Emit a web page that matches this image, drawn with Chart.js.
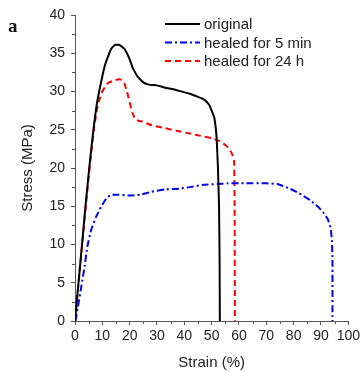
<!DOCTYPE html>
<html><head><meta charset="utf-8">
<script src="https://cdn.jsdelivr.net/npm/chart.js@4/dist/chart.umd.min.js"></script>
<style>html,body{margin:0;padding:0;background:#fff;}canvas{display:block;}</style>
</head><body>
<canvas id="c" width="363" height="372"></canvas>
<script>
const seriesLabels = ['original', 'healed for 5 min', 'healed for 24 h'];
const originalStrain = [0,2,4,5.5,7,8,9,10,11,12,13,14,15,16,17,18,19,20,21,22,23,25,27,30,33,36,39,42,45,47,49,50,51,51.8,52.3,52.7,52.9,53];
const originalStress = [0,7.8,15.6,21,25.8,28.4,30.3,32,33.5,34.5,35.4,35.9,36.1,36.1,35.9,35.6,35,34.2,33.2,32.5,31.9,31.2,30.9,30.8,30.5,30.3,30,29.7,29.3,29,28.3,27.5,26.5,24,20,15,8,0];
const healed5Strain = [0.2,1.1,2.3,3.5,4.5,5.9,7.7,9.5,11.4,13.2,16,20,24,28,33,38,42,47,52,56,62,70,74,78,82,86,89,91,92.5,93.5,94,94.2,94.2];
const healed5Stress = [0,1.9,4.5,7.1,9.7,11.9,13.6,14.9,16,16.5,16.5,16.4,16.5,16.9,17.2,17.3,17.5,17.8,17.9,18,18,18,17.9,17.4,16.7,15.8,14.9,14.1,13.3,12.2,10.5,8,0];
const healed24Strain = [0,2,4,5.5,7,8,9,10,11,12,14,16,17,18,19,19.8,21,22.2,24.7,28,33,38,42,46,50,53,55,56.5,57.5,58.2,58.4,58.5];
const healed24Stress = [0,7.6,15.2,20.6,25.3,27.6,29,30,30.6,31.1,31.4,31.6,31.5,31.1,30,28.9,27.2,26.3,26.05,25.6,25.2,24.8,24.5,24.2,23.9,23.5,23,22.5,21.8,21,15,0];
const xTicks = [0,10,20,30,40,50,60,70,80,90,100];
const yTicks = [0,5,10,15,20,25,30,35,40];

const pts = (xs, ys) => xs.map((x, i) => ({x, y: ys[i]}));

const minorTicks = {
  id: 'minorTicks',
  afterDraw(chart) {
    const {ctx, scales: {x, y}} = chart;
    ctx.save();
    ctx.strokeStyle = '#555';
    ctx.lineWidth = 1;
    ctx.beginPath();
    for (let i = 0; i < yTicks.length - 1; i++) {
      const v = (yTicks[i] + yTicks[i + 1]) / 2;
      const py = Math.round(y.getPixelForValue(v)) + 0.5;
      ctx.moveTo(x.left - 3, py); ctx.lineTo(x.left, py);
    }
    for (let i = 0; i < xTicks.length - 1; i++) {
      const v = (xTicks[i] + xTicks[i + 1]) / 2;
      const px = Math.round(x.getPixelForValue(v)) + 0.5;
      ctx.moveTo(px, y.bottom); ctx.lineTo(px, y.bottom + 3);
    }
    ctx.stroke();
    ctx.restore();
  }
};

const customLegend = {
  id: 'customLegend',
  afterDraw(chart) {
    const ctx = chart.ctx;
    ctx.save();
    const x0 = 165, x1 = 200, tx = 204, y0 = 24, dy = 18.5;
    chart.data.datasets.forEach((ds, i) => {
      const yy = y0 + i * dy;
      ctx.strokeStyle = ds.borderColor;
      ctx.lineWidth = ds.borderWidth;
      ctx.setLineDash(ds.borderDash || []);
      ctx.beginPath(); ctx.moveTo(x0, yy); ctx.lineTo(x1, yy); ctx.stroke();
      ctx.setLineDash([]);
      ctx.fillStyle = '#222';
      ctx.font = '15px "Liberation Sans", Arial, sans-serif';
      ctx.textBaseline = 'middle';
      ctx.textAlign = 'left';
      ctx.fillText(ds.label, tx, yy + 1);
    });
    ctx.fillStyle = '#111';
    ctx.font = 'bold 19px "Liberation Serif", "Times New Roman", serif';
    ctx.textBaseline = 'middle';
    ctx.fillText('a', 8, 27);
    ctx.restore();
  }
};

new Chart(document.getElementById('c'), {
  type: 'scatter',
  data: {
    datasets: [
      {label: seriesLabels[0], data: pts(originalStrain, originalStress), showLine: true, borderColor: '#000', borderWidth: 2, pointRadius: 0, tension: 0.1},
      {label: seriesLabels[1], data: pts(healed5Strain, healed5Stress), showLine: true, borderColor: '#0000ee', borderWidth: 2, borderDash: [7,3,2,3], pointRadius: 0, tension: 0.1},
      {label: seriesLabels[2], data: pts(healed24Strain, healed24Stress), showLine: true, borderColor: '#ff0000', borderWidth: 2, borderDash: [6,4], pointRadius: 0, tension: 0.1}
    ]
  },
  options: {
    responsive: false,
    animation: false,
    layout: {padding: {left: 0, right: 13, top: 15, bottom: 0}},
    plugins: {legend: {display: false}, tooltip: {enabled: false}},
    scales: {
      x: {
        type: 'linear', min: 0, max: 100,
        afterBuildTicks: s => { s.ticks = xTicks.map(v => ({value: v})); },
        afterFit: s => { s.height = 51; },
        ticks: {font: {family: '"Liberation Sans", Arial, sans-serif', size: 14}, color: '#222', padding: 3, maxRotation: 0, autoSkip: false},
        grid: {drawOnChartArea: false, drawTicks: true, tickLength: 4, tickColor: '#555'},
        border: {color: '#555', width: 1},
        title: {display: true, text: 'Strain (%)', font: {family: '"Liberation Sans", Arial, sans-serif', size: 15}, color: '#222', padding: {top: 0, bottom: 0}}
      },
      y: {
        type: 'linear', min: 0, max: 40,
        afterBuildTicks: s => { s.ticks = yTicks.map(v => ({value: v})); },
        afterFit: s => { s.width = 75; },
        ticks: {font: {family: '"Liberation Sans", Arial, sans-serif', size: 14}, color: '#222', padding: 6, autoSkip: false},
        grid: {drawOnChartArea: false, drawTicks: true, tickLength: 4, tickColor: '#555'},
        border: {color: '#555', width: 1},
        title: {display: true, text: 'Stress (MPa)', font: {family: '"Liberation Sans", Arial, sans-serif', size: 15}, color: '#222', padding: {top: 19, bottom: 0}}
      }
    }
  },
  plugins: [minorTicks, customLegend]
});
</script>
</body></html>
